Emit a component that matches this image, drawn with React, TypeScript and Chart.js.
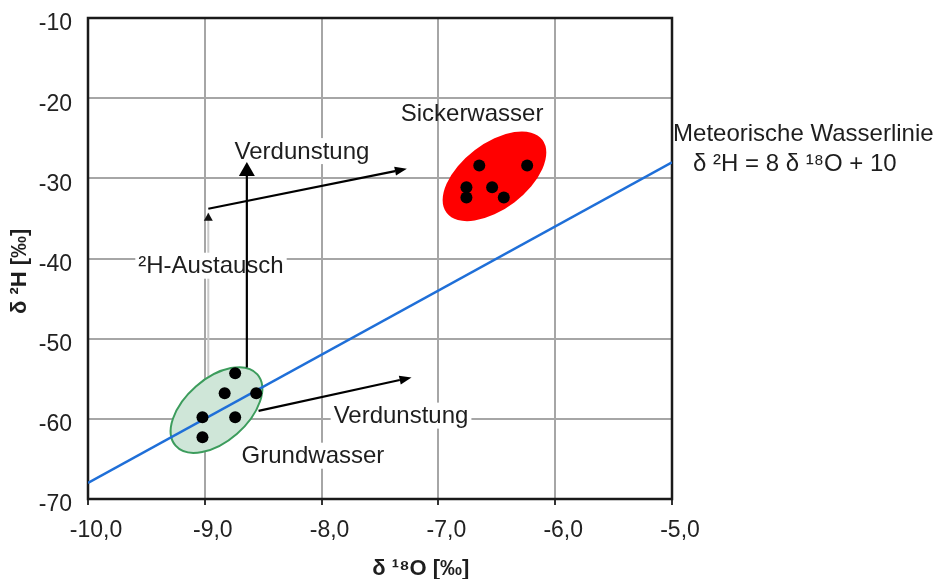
import React, { useEffect, useRef } from 'react';
import { Chart, registerables } from 'chart.js';

Chart.register(...registerables);

// ---- data ----
const xTickLabels = ['-10,0', '-9,0', '-8,0', '-7,0', '-6,0', '-5,0'];
const yTickLabels = ['-70', '-60', '-50', '-40', '-30', '-20', '-10'];

const meteoricX = [-10, -5];
const meteoricY = [-68, -28];

const groundwaterX = [-8.74, -8.83, -8.56, -9.02, -8.74, -9.02];
const groundwaterY = [-54.3, -56.8, -56.8, -59.8, -59.8, -62.3];

const seepageX = [-6.65, -6.24, -6.76, -6.76, -6.54, -6.44];
const seepageY = [-28.4, -28.4, -31.1, -32.4, -31.1, -32.4];

// ellipses: [center], [end of major semi-axis], [end of minor semi-axis] (data units)
const seepageEllipse = [[-6.52, -29.75], [-6.11, -25.2], [-6.35, -33.0]];
const groundwaterEllipse = [[-8.9, -58.9], [-8.55, -54.45], [-8.72, -61.8]];

// arrows: [x1, y1, x2, y2] (data units), head at (x2, y2)
const arrowExchange = [-8.97, -55.3, -8.97, -34.3];
const arrowVertical = [-8.64, -53.6, -8.64, -27.96];
const arrowUpper = [-8.97, -33.8, -7.27, -28.8];
const arrowLower = [-8.54, -59.0, -7.23, -54.84];

// annotation labels anchored in data units
const labelTexts = ['Verdunstung', '²H-Austausch', 'Sickerwasser', 'Meteorische Wasserlinie', 'δ ²H = 8 δ ¹⁸O + 10', 'Verdunstung', 'Grundwasser'];
const labelX = [-8.168, -8.947, -6.712, -4.991, -4.82, -7.32, -8.074];
const labelY = [-26.6, -40.9, -21.9, -24.4, -28.1, -59.6, -64.6];

const xTitle = 'δ ¹⁸O [‰]';
const yTitle = 'δ ²H [‰]';

const FONT = '"Liberation Sans", Arial, sans-serif';

function toPoints(xs: number[], ys: number[]) {
  return xs.map((x, i) => ({ x, y: ys[i] }));
}

export default function App() {
  const ref = useRef<HTMLCanvasElement>(null);

  useEffect(() => {
    const canvas = ref.current;
    if (!canvas) return;

    const overlay = {
      id: 'overlay',
      beforeDatasetsDraw(chart: any) {
        const { ctx, chartArea: a, scales } = chart;
        const px = (v: number) => scales.x.getPixelForValue(v);
        const py = (v: number) => scales.y.getPixelForValue(v);

        // frame
        ctx.save();
        ctx.strokeStyle = '#1a1a1a';
        ctx.lineWidth = 2.5;
        ctx.strokeRect(a.left, a.top, a.right - a.left, a.bottom - a.top);
        ctx.restore();

        // grey exchange arrow
        {
          const [x1, y1, x2, y2] = arrowExchange;
          ctx.save();
          ctx.strokeStyle = '#c9c9c9';
          ctx.lineWidth = 2;
          ctx.beginPath();
          ctx.moveTo(px(x1), py(y1));
          ctx.lineTo(px(x2), py(y2));
          ctx.stroke();
          ctx.fillStyle = '#111';
          const tx = px(x2), ty = py(y2);
          ctx.beginPath();
          ctx.moveTo(tx, ty);
          ctx.lineTo(tx - 4.5, ty + 8);
          ctx.lineTo(tx + 4.5, ty + 8);
          ctx.closePath();
          ctx.fill();
          ctx.restore();
        }

        // labels
        ctx.save();
        ctx.font = `24px ${FONT}`;
        ctx.textBaseline = 'middle';
        labelTexts.forEach((t, i) => {
          const w = ctx.measureText(t).width;
          const leftAligned = i === 3 || i === 4;
          const x = px(labelX[i]);
          const y = py(labelY[i]);
          const left = leftAligned ? x : x - w / 2;
          const hasBg = i === 0 || i === 1 || i === 5 || i === 6;
          if (hasBg) {
            ctx.fillStyle = '#ffffff';
            ctx.fillRect(left - 3, y - 13, w + 6, 26);
          }
          ctx.fillStyle = '#1e1e1e';
          ctx.textAlign = 'left';
          ctx.fillText(t, left, y + 1);
        });
        ctx.restore();

        // ellipses
        const ell = (e: number[][], fill: string, stroke: string | null) => {
          const cx = px(e[0][0]), cy = py(e[0][1]);
          const mx = px(e[1][0]) - cx, my = py(e[1][1]) - cy;
          const nx = px(e[2][0]) - cx, ny = py(e[2][1]) - cy;
          ctx.save();
          ctx.beginPath();
          ctx.ellipse(cx, cy, Math.hypot(mx, my), Math.hypot(nx, ny), Math.atan2(my, mx), 0, Math.PI * 2);
          ctx.fillStyle = fill;
          ctx.fill();
          if (stroke) {
            ctx.strokeStyle = stroke;
            ctx.lineWidth = 2;
            ctx.stroke();
          }
          ctx.restore();
        };
        ell(seepageEllipse, '#ff0000', null);
        ell(groundwaterEllipse, '#cfe6d8', '#3c9c5c');

        // axis titles
        ctx.save();
        ctx.font = `bold 22px ${FONT}`;
        ctx.fillStyle = '#1e1e1e';
        ctx.textAlign = 'center';
        ctx.textBaseline = 'middle';
        ctx.fillText(xTitle, px(-7.15), a.bottom + 70);
        ctx.translate(20, py(-41.6));
        ctx.rotate(-Math.PI / 2);
        ctx.fillText(yTitle, 0, 0);
        ctx.restore();
      },
      afterDatasetsDraw(chart: any) {
        const { ctx, scales } = chart;
        const px = (v: number) => scales.x.getPixelForValue(v);
        const py = (v: number) => scales.y.getPixelForValue(v);
        const arrow = (ar: number[], len: number, half: number) => {
          const x1 = px(ar[0]), y1 = py(ar[1]), x2 = px(ar[2]), y2 = py(ar[3]);
          const ang = Math.atan2(y2 - y1, x2 - x1);
          const bx = x2 - Math.cos(ang) * len, by = y2 - Math.sin(ang) * len;
          ctx.save();
          ctx.strokeStyle = '#000';
          ctx.fillStyle = '#000';
          ctx.lineWidth = 2.2;
          ctx.beginPath();
          ctx.moveTo(x1, y1);
          ctx.lineTo(bx, by);
          ctx.stroke();
          ctx.beginPath();
          ctx.moveTo(x2, y2);
          ctx.lineTo(bx + Math.sin(ang) * half, by - Math.cos(ang) * half);
          ctx.lineTo(bx - Math.sin(ang) * half, by + Math.cos(ang) * half);
          ctx.closePath();
          ctx.fill();
          ctx.restore();
        };
        arrow(arrowVertical, 14, 8);
        arrow(arrowUpper, 12, 4.5);
        arrow(arrowLower, 12, 4.5);
      },
    };

    const chart = new Chart(canvas, {
      type: 'scatter',
      data: {
        datasets: [
          {
            label: 'Sickerwasser',
            data: toPoints(seepageX, seepageY),
            backgroundColor: '#000',
            borderWidth: 0,
            pointRadius: 6,
            order: 1,
          },
          {
            label: 'Grundwasser',
            data: toPoints(groundwaterX, groundwaterY),
            backgroundColor: '#000',
            borderWidth: 0,
            pointRadius: 6,
            order: 1,
          },
          {
            type: 'line',
            label: 'Meteorische Wasserlinie',
            data: toPoints(meteoricX, meteoricY),
            borderColor: '#1f6fd8',
            borderWidth: 2.5,
            pointRadius: 0,
            fill: false,
            order: 2,
          } as any,
        ],
      },
      options: {
        responsive: false,
        animation: false,
        devicePixelRatio: 1,
        layout: { padding: { top: 18, right: 267, left: 0, bottom: 0 } },
        plugins: {
          legend: { display: false },
          tooltip: { enabled: false },
        },
        scales: {
          x: {
            type: 'linear',
            min: -10,
            max: -5,
            ticks: {
              stepSize: 1,
              padding: 12,
              labelOffset: 8,
              color: '#222',
              font: { family: FONT, size: 23 },
              callback: (_v: any, i: number) => xTickLabels[i],
            },
            grid: {
              color: '#a6a6a6',
              lineWidth: 2,
              drawTicks: true,
              tickLength: 6,
              tickColor: '#333',
              tickWidth: 2,
            },
            border: { display: false },
            afterFit: (s: any) => {
              s.height = 80;
              s.paddingLeft = 0;
              s.paddingRight = 0;
            },
          },
          y: {
            type: 'linear',
            min: -70,
            max: -10,
            ticks: {
              stepSize: 10,
              padding: 16,
              labelOffset: 6,
              color: '#222',
              font: { family: FONT, size: 23 },
              callback: (_v: any, i: number) => yTickLabels[i],
            },
            grid: {
              color: '#a6a6a6',
              lineWidth: 2,
              drawTicks: false,
            },
            border: { display: false },
            afterFit: (s: any) => {
              s.width = 88;
              s.paddingTop = 0;
              s.paddingBottom = 0;
            },
          },
        },
      },
      plugins: [overlay],
    } as any);

    return () => chart.destroy();
  }, []);

  return (
    <div style={{ position: 'absolute', left: 0, top: 0, width: 939, height: 579, background: '#fff' }}>
      <canvas ref={ref} width={939} height={579} style={{ display: 'block' }} />
    </div>
  );
}
